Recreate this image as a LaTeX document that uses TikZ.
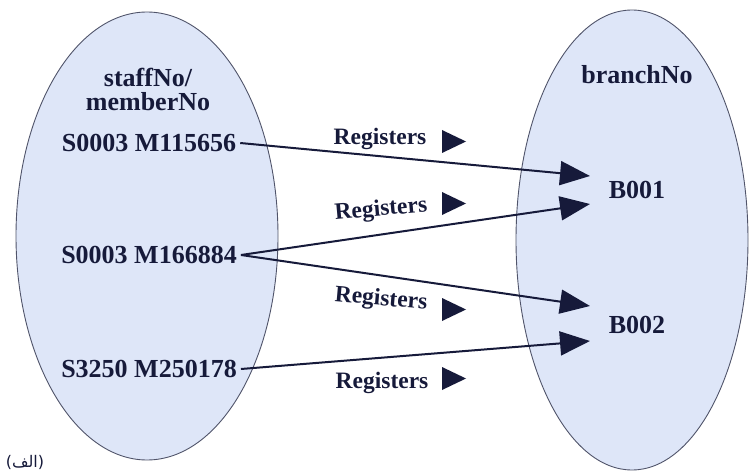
\documentclass[tikz,border=0pt]{standalone}
\usepackage{fontspec}
\setmainfont{Liberation Serif}
\newfontfamily\arabicfont[Script=Arabic]{DejaVu Sans}
\TeXXeTstate=1
\usetikzlibrary{arrows.meta,calc}
\definecolor{ellfill}{RGB}{222,230,248}
\definecolor{ellline}{RGB}{80,84,106}
\definecolor{ink}{RGB}{22,26,58}
\begin{document}
\begin{tikzpicture}[x=1pt,y=-1pt,
  val/.style={font=\fontsize{26}{28}\selectfont\bfseries,text=ink,inner sep=4pt},
  reg/.style={font=\fontsize{23.5}{25}\selectfont\bfseries,text=ink,inner sep=0pt},
  conn/.style={draw=ink,line width=2pt,-{Triangle[length=30pt,width=24pt]}},
  tri/.style={fill=ink}]
\useasboundingbox (0,0) rectangle (749,473);
\draw[draw=ellline,line width=0.9pt,fill=ellfill] (147,236) ellipse [x radius=131, y radius=224];
\draw[draw=ellline,line width=0.9pt,fill=ellfill] (632,240) ellipse [x radius=116, y radius=230];
\node[val,align=center] (h1) at (148,89) {staffNo/\\[-4pt]memberNo};
\node[val] (h2) at (637,75) {branchNo};
\node[val] (s1) at (149,143) {S0003 M115656};
\node[val] (s2) at (149,255) {S0003 M166884};
\node[val] (s3) at (149,369) {S3250 M250178};
\node[val] (b1) at (637,190) {B001};
\node[val] (b2) at (637,325) {B002};
\coordinate (t1) at (590,176);
\coordinate (t2) at (590,204);
\coordinate (t3) at (590,306);
\coordinate (t4) at (590,341);
\draw[conn] (s1.east) -- (t1);
\draw[conn] (s2.east) -- (t2);
\draw[conn] (s2.east) -- (t3);
\draw[conn] (s3.east) -- (t4);
\node[reg] (r1) at (380,139) {Registers};
\node[reg,rotate=5] (r2) at (381,210) {Registers};
\node[reg,rotate=-5] (r3) at (381,300) {Registers};
\node[reg] (r4) at (382,383) {Registers};
\fill[tri] (442,130) -- (466,141.5) -- (442,153) -- cycle;
\fill[tri] (442,192) -- (466,203.5) -- (442,215) -- cycle;
\fill[tri] (442,298) -- (466,309.5) -- (442,321) -- cycle;
\fill[tri] (442,367) -- (466,378.5) -- (442,390) -- cycle;
\node[font=\arabicfont\fontsize{16}{18}\selectfont,text=ink,inner sep=0pt] (lbl) at (25,462) {\beginR(الف)\endR};
\end{tikzpicture}
\end{document}
